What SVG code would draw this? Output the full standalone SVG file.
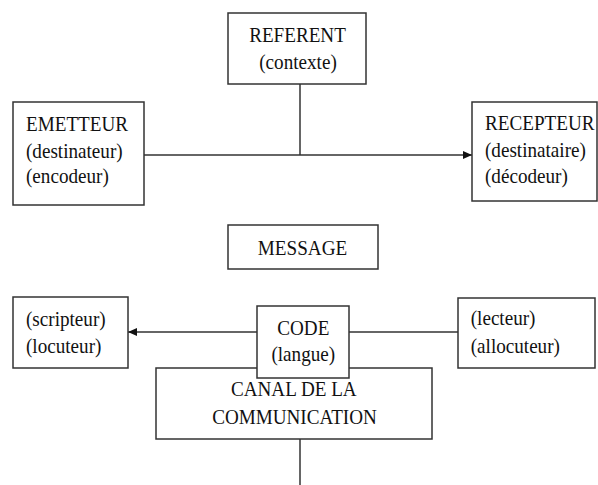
<svg xmlns="http://www.w3.org/2000/svg" width="598" height="485" viewBox="0 0 598 485">
<style>
.box{fill:#fff;stroke:#333;stroke-width:1.5}
.ln{fill:none;stroke:#333;stroke-width:1.5}
.t{font-size:22px;fill:#111}
.c{text-anchor:middle}
</style>
<defs>
<marker id="ah" markerUnits="userSpaceOnUse" markerWidth="10" markerHeight="10" refX="9" refY="4" orient="auto">
<path d="M0,0 L9,4 L0,8 z" fill="#111"/>
</marker>
</defs>
<rect width="598" height="485" fill="#fff"/>
<g id="connectors">
<line class="ln" x1="300" y1="84" x2="300" y2="155"/>
<line class="ln" x1="144" y1="155" x2="472" y2="155" marker-end="url(#ah)"/>
<line class="ln" x1="257" y1="332" x2="128" y2="332" marker-end="url(#ah)"/>
<line class="ln" x1="458" y1="332" x2="349" y2="332"/>
<line class="ln" x1="300" y1="439" x2="300" y2="485"/>
</g>
<g font-family="Liberation Serif, serif">
<g id="referent">
<rect class="box" x="228" y="13" width="138" height="71"/>
<text class="t c" transform="translate(297.5,42) scale(0.87,1)">REFERENT</text>
<text class="t c" transform="translate(298,69) scale(0.87,1)">(contexte)</text>
</g>
<g id="emetteur">
<rect class="box" x="13" y="102" width="131" height="103"/>
<text class="t" transform="translate(26,131) scale(0.87,1)">EMETTEUR</text>
<text class="t" transform="translate(26,157.5) scale(0.87,1)">(destinateur)</text>
<text class="t" transform="translate(26,183) scale(0.87,1)">(encodeur)</text>
</g>
<g id="recepteur">
<rect class="box" x="472" y="102" width="125" height="99"/>
<text class="t" transform="translate(485,130) scale(0.87,1)">RECEPTEUR</text>
<text class="t" transform="translate(485,157) scale(0.87,1)">(destinataire)</text>
<text class="t" transform="translate(485,183) scale(0.87,1)">(décodeur)</text>
</g>
<g id="message">
<rect class="box" x="228" y="225" width="150" height="44"/>
<text class="t c" transform="translate(302.5,255) scale(0.87,1)">MESSAGE</text>
</g>
<g id="scripteur">
<rect class="box" x="13" y="297" width="115" height="71"/>
<text class="t" transform="translate(26,326) scale(0.87,1)">(scripteur)</text>
<text class="t" transform="translate(26,353) scale(0.87,1)">(locuteur)</text>
</g>
<g id="lecteur">
<rect class="box" x="458" y="298" width="137" height="70"/>
<text class="t" transform="translate(470.7,325) scale(0.87,1)">(lecteur)</text>
<text class="t" transform="translate(470.7,353) scale(0.87,1)">(allocuteur)</text>
</g>
<g id="canal">
<rect class="box" x="156" y="368" width="276" height="71"/>
<text class="t c" transform="translate(293.8,396) scale(0.87,1)">CANAL DE LA</text>
<text class="t c" transform="translate(294.5,424) scale(0.87,1)">COMMUNICATION</text>
</g>
<g id="code">
<rect class="box" x="257" y="306" width="92" height="72"/>
<text class="t c" transform="translate(303.3,335) scale(0.87,1)">CODE</text>
<text class="t c" transform="translate(303.3,361) scale(0.87,1)">(langue)</text>
</g>
</g>
</svg>
